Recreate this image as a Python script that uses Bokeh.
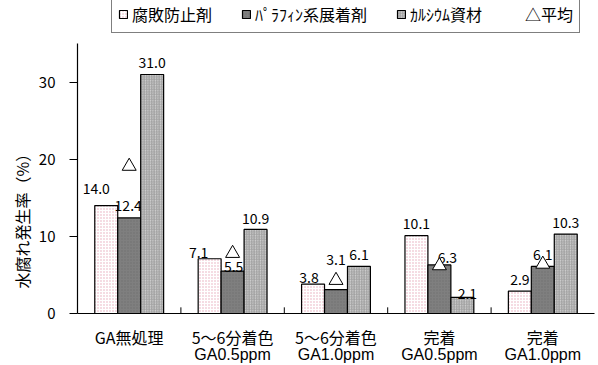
from bokeh.plotting import figure
from bokeh.models import (ColumnDataSource, FactorRange, Range1d, Legend, Title,
                          LegendItem, FixedTicker, CategoricalAxis, CustomJSTickFormatter)
from bokeh.transform import dodge
from bokeh.core.properties import value
from bokeh.embed import file_html
from bokeh.resources import INLINE

# ---- data ----
categories = ["GA無処理", "5～6分着色 GA0.5ppm", "5～6分着色 GA1.0ppm",
              "完着 GA0.5ppm", "完着 GA1.0ppm"]
cat_line1 = ["GA無処理", "5～6分着色", "5～6分着色", "完着", "完着"]
cat_line2 = ["", "GA0.5ppm", "GA1.0ppm", "GA0.5ppm", "GA1.0ppm"]
series_names = ["腐敗防止剤", "ﾊﾟﾗﾌｨﾝ系展着剤", "ｶﾙｼｳﾑ資材"]
anti_rot = [14.0, 7.1, 3.8, 10.1, 2.9]
paraffin = [12.4, 5.5, 3.1, 6.3, 6.1]
calcium = [31.0, 10.9, 6.1, 2.1, 10.3]
average = [19.1, 7.8, 4.3, 6.2, 6.4]
average_name = "平均"
y_ticks = [0, 10, 20, 30]
y_axis_max = 35
y_label = "水腐れ発生率（%）"

# ---- label nudges (px), styling only ----
label_dx = [[-10, -11, -4, 0, 0], [-1, 1, 0, 8, 0], [0, 0, 0, 5, 0]]
label_gap = [[11, 0, 1, 6, 6], [6, -1, 24, 1, 6], [6, 5, 6, -2, 6]]
BASE_SHIFT = 6

FONT = "Noto Sans CJK JP"
LATIN = "Liberation Sans"
BAR_W = 0.222
offsets = [-BAR_W, 0.0, BAR_W]

p = figure(width=598, height=365, x_range=FactorRange(*categories, range_padding=0),
           y_range=Range1d(0, 40.6), output_backend="svg", toolbar_location=None,
           min_border_left=77, min_border_right=4, min_border_top=0, min_border_bottom=0)
p.outline_line_color = None
p.xgrid.grid_line_color = None
p.ygrid.grid_line_color = None
p.background_fill_color = "white"

series_vals = [anti_rot, paraffin, calcium]
styles = [
    dict(fill_color="white", hatch_pattern="dot", hatch_color="#e6a8b8", hatch_scale=3, hatch_weight=1),
    dict(fill_color="#7f7f7f", hatch_pattern="dot", hatch_color="#6f6f6f", hatch_scale=3, hatch_weight=1),
    dict(fill_color="#d0d0d0", hatch_pattern="right_diagonal_line", hatch_color="#a0a0a0", hatch_scale=2.5, hatch_weight=1),
]

renderers = []
for k, vals in enumerate(series_vals):
    src = ColumnDataSource(dict(cat=categories, val=vals,
                                lbl=[f"{v:.1f}" for v in vals],
                                dx=label_dx[k], dy=[-g - BASE_SHIFT for g in label_gap[k]]))
    r = p.vbar(x=dodge("cat", offsets[k], range=p.x_range), top="val", width=BAR_W,
               source=src, line_color="black", line_width=1.2, **styles[k])
    renderers.append(r)
    p.text(x=dodge("cat", offsets[k], range=p.x_range), y="val", text="lbl", source=src,
           x_offset="dx", y_offset="dy", text_align="center", text_baseline="alphabetic",
           text_font=value(FONT), text_font_size="14px", text_color="black")

avg_src = ColumnDataSource(dict(cat=categories, val=average))
tri = p.scatter(x="cat", y="val", source=avg_src, marker="triangle", size=14,
                fill_color="white", line_color="black", line_width=1)
# invisible stand-in so the legend's "△" is drawn as text at a readable size
tri_key = p.scatter(x=[], y=[], marker="triangle", fill_alpha=0, line_alpha=0)

# separator ticks between categories on the x axis
sep_src = ColumnDataSource(dict(cat=categories[:-1], y0=[0] * 4, y1=[0.8] * 4))
p.segment(x0=dodge("cat", 0.5, range=p.x_range), x1=dodge("cat", 0.5, range=p.x_range),
          y0="y0", y1="y1", source=sep_src, line_color="black", line_width=1)

# x axes: two stacked category label lines
JS = "const i = cats.indexOf(tick); return i >= 0 ? lines[i] : '';"
ax1 = p.xaxis[0]
ax1.formatter = CustomJSTickFormatter(args=dict(cats=categories, lines=cat_line1), code=JS)
ax1.major_tick_line_color = None
ax1.major_tick_out = 0
ax1.major_tick_in = 0
ax1.minor_tick_line_color = None
ax1.axis_line_color = "black"
ax1.axis_line_width = 1.2
ax1.major_label_standoff = 11
ax1.major_label_text_font = FONT
ax1.major_label_text_font_size = "16px"
ax1.major_label_text_color = "black"

ax2 = CategoricalAxis(formatter=CustomJSTickFormatter(args=dict(cats=categories, lines=cat_line2), code=JS),
                      axis_line_color=None, major_tick_line_color=None, major_tick_out=0,
                      major_tick_in=0, minor_tick_line_color=None, major_label_standoff=-6,
                      major_label_text_font=LATIN, major_label_text_font_size="16px",
                      major_label_text_color="black")
p.add_layout(ax2, "below")

p.yaxis.ticker = FixedTicker(ticks=y_ticks)
p.yaxis.bounds = (0, y_axis_max)
p.yaxis.axis_line_color = "black"
p.yaxis.axis_line_width = 1.2
p.yaxis.major_tick_in = 0
p.yaxis.major_tick_out = 8
p.yaxis.minor_tick_line_color = None
p.yaxis.major_label_standoff = 14
p.yaxis.major_label_text_font = FONT
p.yaxis.major_label_text_font_size = "15px"
p.yaxis.major_label_text_color = "black"

ytitle = Title(text=y_label, align="left", offset=25, standoff=4,
               text_font=FONT, text_font_size="16px", text_font_style="normal",
               text_color="black")
p.add_layout(ytitle, "left")

items = [LegendItem(label=series_names[k], renderers=[renderers[k]]) for k in range(3)]
items.append(LegendItem(label="△" + average_name, renderers=[tri_key]))
legend = Legend(items=items, orientation="horizontal", location=(34, 280),
                label_text_font=FONT, label_text_font_size="16px", label_text_color="black",
                glyph_width=10, glyph_height=10, label_standoff=4, spacing=29,
                padding=6, margin=0, border_line_color="black", border_line_width=1,
                background_fill_color="white", background_fill_alpha=1,
                label_height=18)
p.add_layout(legend, "center")

open("out.html", "w").write(file_html(p, INLINE))
